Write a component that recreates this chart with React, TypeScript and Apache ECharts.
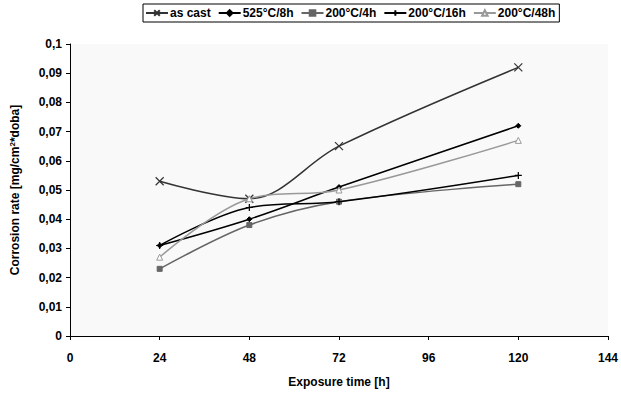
import React, { useEffect, useRef } from "react";
import * as echarts from "echarts";

const hours = [24, 48, 72, 120];
const seriesNames = ["as cast", "525°C/8h", "200°C/4h", "200°C/16h", "200°C/48h"];
const asCast = [0.053, 0.047, 0.065, 0.092];
const t525_8h = [0.031, 0.040, 0.051, 0.072];
const t200_4h = [0.023, 0.038, 0.046, 0.052];
const t200_16h = [0.031, 0.044, 0.046, 0.055];
const t200_48h = [0.027, 0.047, 0.050, 0.067];

const pair = (vals: number[]) => hours.map((h, i) => [h, vals[i]]);

const crossPath = "path://M0,0L10,10M10,0L0,10";
const plusPath = "path://M5,0L5,10M0,5L10,5";

export default function App() {
  const ref = useRef<HTMLDivElement>(null);
  useEffect(() => {
    if (!ref.current) return;
    const chart = echarts.init(ref.current, undefined, { renderer: "svg" });
    const font = "Arial, 'Liberation Sans', sans-serif";
    const mk = (
      name: string,
      vals: number[],
      color: string,
      symbol: string,
      size: number,
      width: number,
      extraItem: any = {}
    ) => ({
      name,
      type: "line",
      data: pair(vals),
      smooth: 0.35,
      symbol,
      symbolSize: size,
      lineStyle: { color, width },
      itemStyle: { color, borderColor: color, borderWidth: 1, ...extraItem },
    });
    chart.setOption({
      animation: false,
      backgroundColor: "#ffffff",
      textStyle: { fontFamily: font },
      legend: {
        top: 4,
        left: 143,
        padding: [3, 4, 3, 2],
        itemGap: 7,
        itemWidth: 22,
        itemHeight: 7,
        borderColor: "#000",
        borderWidth: 1,
        borderRadius: 0,
        textStyle: { fontWeight: "bold", fontSize: 12, color: "#000", fontFamily: font, padding: [0, 0, 0, -3] },
        data: seriesNames,
      },
      grid: { left: 68, right: 12, top: 44, bottom: 56, show: true, backgroundColor: "#f9f9f9", borderWidth: 0 },
      xAxis: {
        type: "value",
        min: 0,
        max: 144,
        interval: 24,
        name: "Exposure time [h]",
        nameLocation: "middle",
        nameGap: 40,
        nameTextStyle: { fontWeight: "bold", fontSize: 12, color: "#000" },
        axisLine: { lineStyle: { color: "#000", width: 1 } },
        axisTick: { show: true, length: 4, lineStyle: { color: "#000" } },
        axisLabel: {
          fontWeight: "bold",
          fontSize: 12,
          color: "#000",
          margin: 16,
          formatter: (v: number) => String(v),
        },
        splitLine: { show: false },
      },
      yAxis: {
        type: "value",
        min: 0,
        max: 0.1,
        interval: 0.01,
        name: "Corrosion rate [mg/cm{sup|2}*doba]",
        nameLocation: "middle",
        nameGap: 48,
        nameTextStyle: {
          fontWeight: "bold",
          fontSize: 12,
          color: "#000",
          rich: { sup: { fontSize: 8, fontWeight: "bold", color: "#000", verticalAlign: "top", padding: [0, 0, 6, 0] } },
        },
        axisLine: { show: true, lineStyle: { color: "#000", width: 1 } },
        axisTick: { show: true, length: 4, lineStyle: { color: "#000" } },
        axisLabel: {
          fontWeight: "bold",
          fontSize: 12,
          color: "#000",
          margin: 8,
          formatter: (v: number) => String(Number(v.toFixed(2))).replace(".", ","),
        },
        splitLine: { show: false },
      },
      series: [
        mk(seriesNames[0], asCast, "#333333", crossPath, 8, 1.5, { color: "transparent", borderColor: "#333333", borderWidth: 1.2 }),
        mk(seriesNames[1], t525_8h, "#000000", "diamond", 5, 1.5),
        mk(seriesNames[2], t200_4h, "#666666", "rect", 5, 1.5),
        mk(seriesNames[3], t200_16h, "#000000", plusPath, 7, 1.5, { color: "transparent", borderColor: "#000000", borderWidth: 1.2 }),
        mk(seriesNames[4], t200_48h, "#999999", "triangle", 6, 1.5, { color: "#ffffff", borderColor: "#999999", borderWidth: 1 }),
      ],
    });
    return () => chart.dispose();
  }, []);
  return <div ref={ref} style={{ width: 621, height: 393, position: "absolute", left: 0, top: 0 }} />;
}
